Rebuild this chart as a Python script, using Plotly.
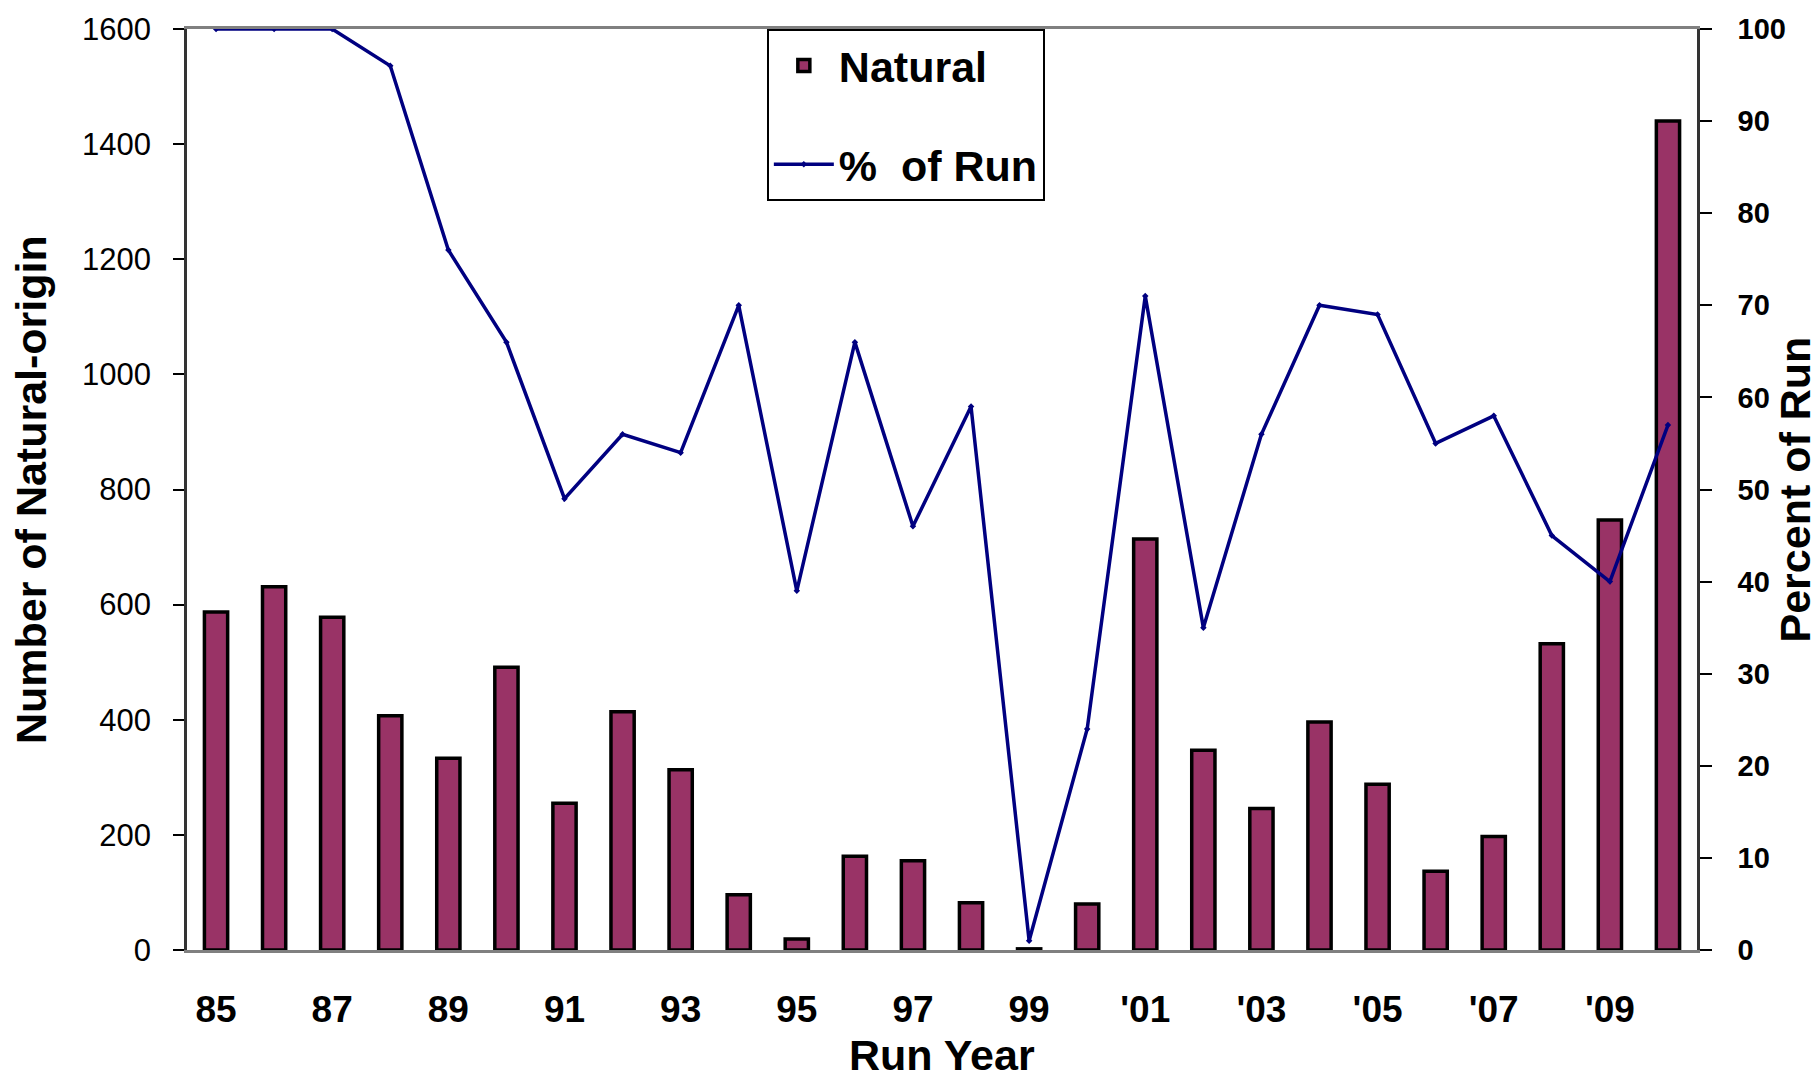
import plotly.graph_objects as go

# ---- data ----
run_years = list(range(1985, 2011))
tick_labels = ["85", "87", "89", "91", "93", "95", "97", "99",
               "'01", "'03", "'05", "'07", "'09"]
natural = [587, 631, 578, 407, 333, 491, 255, 414, 313, 96, 19, 163, 155,
           82, 2, 80, 714, 347, 246, 396, 288, 137, 197, 532, 747, 1440]
pct_of_run = [100, 100, 100, 96, 76, 66, 49, 56, 54, 70, 39, 66, 46,
              59, 1, 24, 71, 35, 56, 70, 69, 55, 58, 45, 40, 57]
left_ticks = [0, 200, 400, 600, 800, 1000, 1200, 1400, 1600]
right_ticks = [0, 10, 20, 30, 40, 50, 60, 70, 80, 90, 100]

idx = list(range(len(run_years)))
label_pos = idx[::2][:len(tick_labels)]
boundaries = [i - 0.5 for i in range(len(run_years) + 1)]

FONT = "Liberation Sans, Arial, sans-serif"
xr = [-0.5, len(run_years) - 0.5]

fig = go.Figure()
fig.add_trace(go.Bar(
    x=idx, y=natural, name="Natural&nbsp;&nbsp;&nbsp;",
    marker=dict(color="#993366", line=dict(color="black", width=3.5)),
    xaxis="x", yaxis="y", legendgroup="a",
))
fig.add_trace(go.Scatter(
    x=idx, y=pct_of_run, name="%&nbsp; of Run", mode="lines+markers",
    line=dict(color="#000080", width=3.5),
    marker=dict(symbol="diamond", size=5, color="#000080"),
    xaxis="x", yaxis="y2", legendgroup="b",
))

fig.update_layout(
    width=1820, height=1082,
    margin=dict(l=187, r=123, t=25, b=132),
    paper_bgcolor="white", plot_bgcolor="white",
    bargap=0.6,
    showlegend=True,
    legend=dict(
        x=0.384, y=1.0, xanchor="left", yanchor="top",
        bgcolor="white", bordercolor="black", borderwidth=2,
        font=dict(family=FONT, size=43, color="black", weight="bold"),
        traceorder="grouped", tracegroupgap=40, itemwidth=60,
    ),
    xaxis=dict(
        range=xr, tickmode="array", tickvals=label_pos, ticktext=tick_labels,
        ticks="", showgrid=False, zeroline=False,
        showline=True, linecolor="#808080", linewidth=3, mirror=True,
        tickfont=dict(family=FONT, size=37, color="black", weight="bold"),
        ticklabelstandoff=25,
    ),
    xaxis2=dict(
        range=xr, overlaying="x", anchor="y", side="bottom",
        tickmode="array", tickvals=boundaries, ticks="outside", ticklen=13,
        tickwidth=1.5, tickcolor="black", showticklabels=False,
        showgrid=False, zeroline=False, showline=False,
    ),
    xaxis3=dict(
        range=xr, overlaying="x", anchor="y", side="bottom",
        tickmode="array", tickvals=boundaries, ticks="inside", ticklen=12,
        tickwidth=1.5, tickcolor="black", showticklabels=False,
        showgrid=False, zeroline=False, showline=False,
    ),
    yaxis=dict(
        range=[0, 1600], tickmode="array", tickvals=left_ticks,
        ticks="outside", ticklen=11, tickwidth=1.5, tickcolor="black",
        showgrid=False, zeroline=False,
        showline=True, linecolor="#333333", linewidth=2.5,
        tickfont=dict(family=FONT, size=31, color="black"),
        ticklabelstandoff=16,
    ),
    yaxis3=dict(
        range=[0, 1600], overlaying="y", anchor="x", side="left",
        tickmode="array", tickvals=left_ticks, ticks="inside", ticklen=10,
        tickwidth=1.5, tickcolor="black", showticklabels=False,
        showgrid=False, zeroline=False, showline=False,
    ),
    yaxis2=dict(
        range=[0, 100], overlaying="y", anchor="x", side="right",
        tickmode="array", tickvals=right_ticks,
        ticks="outside", ticklen=12, tickwidth=1.5, tickcolor="black",
        showgrid=False, zeroline=False,
        showline=True, linecolor="#333333", linewidth=2.5,
        tickfont=dict(family=FONT, size=29, color="black", weight="bold"),
        ticklabelstandoff=20,
    ),
    yaxis4=dict(
        range=[0, 100], overlaying="y", anchor="x", side="right",
        tickmode="array", tickvals=right_ticks, ticks="inside", ticklen=10,
        tickwidth=1.5, tickcolor="black", showticklabels=False,
        showgrid=False, zeroline=False, showline=False,
    ),
    annotations=[
        dict(text="Number of Natural-origin", textangle=-90,
             xref="paper", yref="paper", x=-0.1036, y=0.5,
             xanchor="center", yanchor="middle", showarrow=False,
             font=dict(family=FONT, size=43, color="black", weight="bold")),
        dict(text="Percent of Run", textangle=-90,
             xref="paper", yref="paper", x=1.0649, y=0.5,
             xanchor="center", yanchor="middle", showarrow=False,
             font=dict(family=FONT, size=43, color="black", weight="bold")),
        dict(text="Run Year",
             xref="paper", yref="paper", x=0.5, y=-0.114,
             xanchor="center", yanchor="middle", showarrow=False,
             font=dict(family=FONT, size=43, color="black", weight="bold")),
    ],
)

fig.write_html("out.html")
